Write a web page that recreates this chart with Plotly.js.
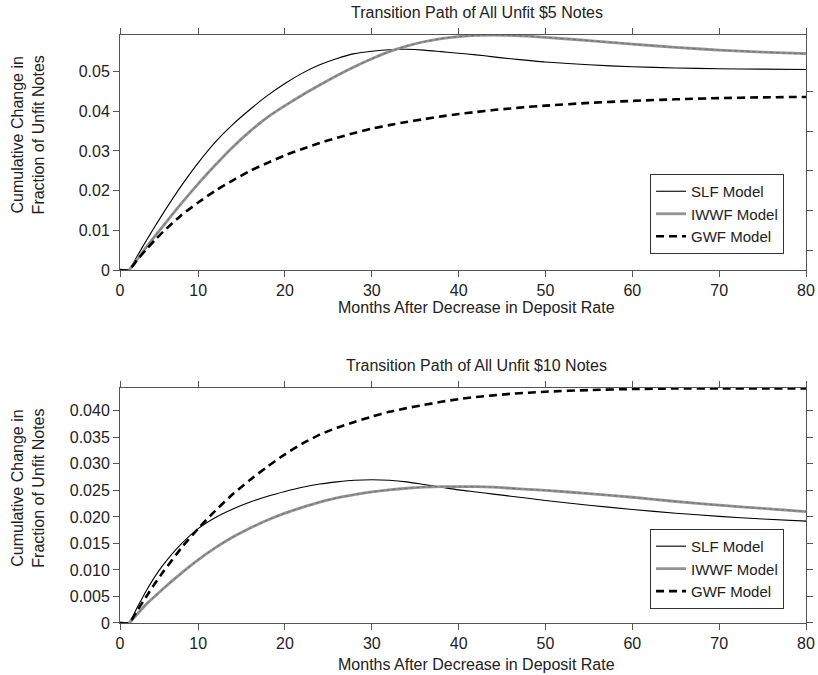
<!DOCTYPE html>
<html>
<head>
<meta charset="utf-8">
<script src="https://cdn.plot.ly/plotly-3.0.1.min.js"></script>
<style>
  html, body { margin: 0; padding: 0; background: #ffffff; }
  #chart { width: 818px; height: 675px; }
</style>
</head>
<body>
<div id="chart"></div>
<script>
// Months after the deposit-rate cut (month 1 is the left edge, labelled 0)
const months = [1, 2, 3, 4, 5, 6, 8, 10, 12, 14, 16, 18, 20, 22, 24, 26, 28, 30, 32, 34,
                36, 38, 40, 42, 44, 46, 48, 50, 55, 60, 65, 70, 75, 80];

// $5 notes
const slf5 = [0, 0, 0.0036, 0.0073, 0.0109, 0.0144, 0.0210, 0.0270, 0.0323, 0.0367, 0.0405, 0.0440,
              0.0470, 0.0496, 0.0517, 0.0533, 0.0545, 0.0551, 0.0555, 0.0556, 0.0554, 0.0550, 0.0546,
              0.0542, 0.0537, 0.0532, 0.0528, 0.0524, 0.0517, 0.0512, 0.0509, 0.0507, 0.0506, 0.0505];
const iwwf5 = [0, 0, 0.0028, 0.0057, 0.0085, 0.0112, 0.0166, 0.0217, 0.0265, 0.0310, 0.0350, 0.0385,
               0.0414, 0.0441, 0.0466, 0.0490, 0.0512, 0.0532, 0.0550, 0.0564, 0.0575, 0.0583, 0.0588,
               0.0591, 0.0592, 0.0591, 0.0589, 0.0586, 0.0578, 0.0569, 0.0561, 0.0554, 0.0549, 0.0545];
const gwf5 = [0, 0, 0.0026, 0.0051, 0.0075, 0.0097, 0.0137, 0.0170, 0.0200, 0.0226, 0.0250, 0.0270,
              0.0289, 0.0305, 0.0320, 0.0333, 0.0345, 0.0356, 0.0365, 0.0373, 0.0380, 0.0387, 0.0393,
              0.0398, 0.0403, 0.0407, 0.0411, 0.0414, 0.0421, 0.0426, 0.0430, 0.0433, 0.0435, 0.0436];

// $10 notes
const slf10 = [0, 0, 0.0030, 0.0060, 0.0087, 0.0110, 0.0148, 0.0178, 0.0199, 0.0215, 0.0228, 0.0239,
               0.0248, 0.0256, 0.0262, 0.0266, 0.0269, 0.0270, 0.0269, 0.0266, 0.0261, 0.0256, 0.0251,
               0.0247, 0.0243, 0.0239, 0.0235, 0.0231, 0.0222, 0.0214, 0.0207, 0.0201, 0.0196, 0.0192];
const iwwf10 = [0, 0, 0.0017, 0.0035, 0.0050, 0.0065, 0.0093, 0.0119, 0.0142, 0.0162, 0.0179, 0.0194,
                0.0207, 0.0218, 0.0228, 0.0236, 0.0242, 0.0247, 0.0251, 0.0254, 0.0256, 0.0257, 0.0257,
                0.0257, 0.0256, 0.0254, 0.0252, 0.0250, 0.0244, 0.0237, 0.0229, 0.0222, 0.0216, 0.0210];
const gwf10 = [0, 0, 0.0024, 0.0049, 0.0074, 0.0097, 0.0140, 0.0178, 0.0212, 0.0243, 0.0270, 0.0295,
               0.0318, 0.0338, 0.0355, 0.0368, 0.0379, 0.0389, 0.0398, 0.0405, 0.0411, 0.0417, 0.0422,
               0.0426, 0.0429, 0.0432, 0.0434, 0.0436, 0.0439, 0.0441, 0.0442, 0.0442, 0.0442, 0.0442];

// Axis ticks and labels
const xTickVals = [1, 10, 20, 30, 40, 50, 60, 70, 80];
const xTickText = ['0', '10', '20', '30', '40', '50', '60', '70', '80'];
const y5TickVals = [0, 0.01, 0.02, 0.03, 0.04, 0.05];
const y5TickText = ['0', '0.01', '0.02', '0.03', '0.04', '0.05'];
const y5RightTicks = [0.005, 0.015, 0.025, 0.035, 0.045];
const y10TickVals = [0, 0.005, 0.010, 0.015, 0.020, 0.025, 0.030, 0.035, 0.040];
const y10TickText = ['0', '0.005', '0.010', '0.015', '0.020', '0.025', '0.030', '0.035', '0.040'];

const seriesNames = ['SLF Model', 'IWWF Model', 'GWF Model'];
const panelTitles = ['Transition Path of All Unfit $5 Notes', 'Transition Path of All Unfit $10 Notes'];
const xTitle = 'Months After Decrease in Deposit Rate';
const yTitle = 'Cumulative Change in<br>Fraction of Unfit Notes';

const FONT = '"Liberation Sans", Arial, Helvetica, sans-serif';
const TEXT = '#222222';
const AXIS = '#555555';

function panelTraces(slf, iwwf, gwf, xa, ya, legendId) {
  return [
    { x: months, y: slf, xaxis: xa, yaxis: ya, legend: legendId, name: seriesNames[0],
      mode: 'lines', line: { color: '#000000', width: 1.1, shape: 'spline', smoothing: 0.7 } },
    { x: months, y: iwwf, xaxis: xa, yaxis: ya, legend: legendId, name: seriesNames[1],
      mode: 'lines', line: { color: '#939393', width: 2.8, shape: 'spline', smoothing: 0.7 } },
    { x: months, y: iwwf, xaxis: xa, yaxis: ya, legend: legendId, showlegend: false, hoverinfo: 'skip',
      mode: 'lines', line: { color: '#6f6f6f', width: 1, dash: 'dot', shape: 'spline', smoothing: 0.7 } },
    { x: months, y: gwf, xaxis: xa, yaxis: ya, legend: legendId, name: seriesNames[2],
      mode: 'lines', line: { color: '#000000', width: 2.6, dash: '8px,5px', shape: 'spline', smoothing: 0.7 } }
  ];
}

const data = [].concat(
  panelTraces(slf5, iwwf5, gwf5, 'x', 'y', 'legend'),
  panelTraces(slf10, iwwf10, gwf10, 'x2', 'y2', 'legend2'),
  // empty trace that keeps the right-hand tick axis of the $5 panel in use
  [{ x: [], y: [], xaxis: 'x', yaxis: 'y3', mode: 'lines', showlegend: false, hoverinfo: 'skip' }]
);

const tickFont = { family: FONT, size: 16, color: TEXT };

function xAxis(domainAnchor) {
  return {
    anchor: domainAnchor, range: [1, 80], tickvals: xTickVals, ticktext: xTickText,
    ticks: 'outside', ticklen: 6, tickcolor: AXIS, mirror: 'ticks',
    showline: true, linecolor: AXIS, linewidth: 1,
    showgrid: false, zeroline: false, tickfont: tickFont
  };
}

const legendBase = {
  xanchor: 'right', yanchor: 'top', x: 0.968,
  bgcolor: '#ffffff', bordercolor: '#333333', borderwidth: 1,
  font: { family: FONT, size: 15, color: TEXT },
  tracegroupgap: 0, itemwidth: 30
};

const titleFont = { family: FONT, size: 16, color: TEXT };

const layout = {
  width: 818, height: 675,
  margin: { l: 120, r: 12, t: 35, b: 52 },
  paper_bgcolor: '#ffffff', plot_bgcolor: '#ffffff',
  font: { family: FONT, size: 15, color: TEXT },
  showlegend: true,
  xaxis: xAxis('y'),
  yaxis: {
    domain: [0.6003, 1], anchor: 'x', range: [0, 0.0592],
    tickvals: y5TickVals, ticktext: y5TickText,
    ticks: 'outside', ticklen: 6, tickcolor: AXIS, mirror: true,
    showline: true, linecolor: AXIS, linewidth: 1,
    showgrid: false, zeroline: false, tickfont: tickFont
  },
  // right-hand tick marks of the $5 panel sit between the left-hand ones
  yaxis3: {
    overlaying: 'y', side: 'right', anchor: 'x', range: [0, 0.0592],
    tickvals: y5RightTicks, showticklabels: false,
    ticks: 'outside', ticklen: 6, tickcolor: AXIS,
    showline: false, showgrid: false, zeroline: false
  },
  xaxis2: xAxis('y2'),
  yaxis2: {
    domain: [0, 0.3997], anchor: 'x2', range: [0, 0.0443],
    tickvals: y10TickVals, ticktext: y10TickText,
    ticks: 'outside', ticklen: 6, tickcolor: AXIS, mirror: 'ticks',
    showline: true, linecolor: AXIS, linewidth: 1,
    showgrid: false, zeroline: false, tickfont: tickFont
  },
  legend: Object.assign({}, legendBase, { y: 0.7636 }),
  legend2: Object.assign({}, legendBase, { y: 0.16 }),
  annotations: [
    { text: panelTitles[0], xref: 'paper', yref: 'paper', x: 0.52, y: 1.0, yshift: 23,
      xanchor: 'center', yanchor: 'middle', showarrow: false, font: titleFont },
    { text: panelTitles[1], xref: 'paper', yref: 'paper', x: 0.52, y: 0.3997, yshift: 22,
      xanchor: 'center', yanchor: 'middle', showarrow: false, font: titleFont },
    { text: xTitle, xref: 'paper', yref: 'paper', x: 0.52, y: 0.6003, yshift: -37,
      xanchor: 'center', yanchor: 'middle', showarrow: false, font: titleFont },
    { text: xTitle, xref: 'paper', yref: 'paper', x: 0.52, y: 0, yshift: -41,
      xanchor: 'center', yanchor: 'middle', showarrow: false, font: titleFont },
    { text: yTitle, xref: 'paper', yref: 'paper', x: -0.134, y: 0.8294, textangle: -90,
      xanchor: 'center', yanchor: 'middle', showarrow: false, font: titleFont },
    { text: yTitle, xref: 'paper', yref: 'paper', x: -0.134, y: 0.2286, textangle: -90,
      xanchor: 'center', yanchor: 'middle', showarrow: false, font: titleFont }
  ]
};

Plotly.newPlot('chart', data, layout, { displayModeBar: false, staticPlot: true });
</script>
</body>
</html>
